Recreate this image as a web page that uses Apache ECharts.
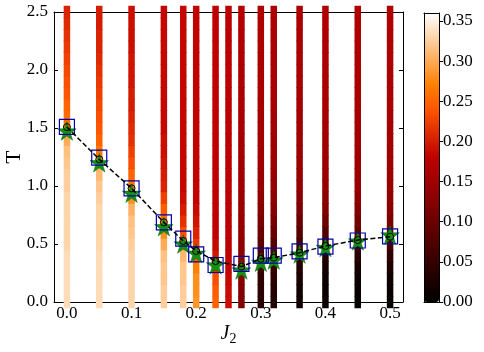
<!DOCTYPE html>
<html><head><meta charset="utf-8">
<script src="https://cdn.jsdelivr.net/npm/echarts@6/dist/echarts.min.js"></script>
<style>html,body{margin:0;padding:0;background:#fff}#c{width:484px;height:352px}</style>
</head><body><div id="c"></div>
<script>
// ---- data ----
const J2 = [0, 0.05, 0.1, 0.15, 0.18, 0.2, 0.23, 0.25, 0.27, 0.3, 0.32, 0.36, 0.4, 0.45, 0.5];
const tGrid = [0,0.1,0.2,0.3,0.4,0.5,0.6,0.7,0.8,0.9,1.0,1.1,1.2,1.3,1.4,1.5,1.6,1.7,1.8,1.9,2.0,2.1,2.2,2.3,2.4,2.5];
const v000 = [0.335,0.335,0.335,0.335,0.335,0.33,0.33,0.33,0.33,0.33,0.325,0.325,0.32,0.315,0.30,0.265,0.255,0.25,0.24,0.235,0.23,0.225,0.22,0.215,0.21,0.205];
const v005 = [0.335,0.335,0.335,0.335,0.335,0.33,0.33,0.33,0.33,0.325,0.32,0.31,0.29,0.265,0.25,0.24,0.235,0.23,0.225,0.22,0.215,0.21,0.205,0.205,0.2,0.2];
const v010 = [0.33,0.33,0.33,0.33,0.33,0.325,0.32,0.315,0.305,0.28,0.26,0.25,0.235,0.225,0.215,0.21,0.205,0.2,0.2,0.195,0.195,0.195,0.19,0.19,0.19,0.19];
const v015 = [0.325,0.325,0.32,0.32,0.315,0.3,0.28,0.26,0.245,0.225,0.205,0.2,0.195,0.19,0.19,0.185,0.185,0.185,0.185,0.185,0.185,0.185,0.185,0.185,0.185,0.185];
const v018 = [0.325,0.325,0.32,0.32,0.31,0.27,0.235,0.215,0.2,0.19,0.185,0.185,0.185,0.185,0.185,0.185,0.185,0.185,0.185,0.185,0.185,0.185,0.185,0.185,0.185,0.185];
const v020 = [0.285,0.28,0.28,0.27,0.245,0.22,0.205,0.195,0.188,0.183,0.183,0.183,0.183,0.183,0.183,0.183,0.183,0.183,0.183,0.183,0.183,0.183,0.183,0.183,0.183,0.183];
const v023 = [0.25,0.245,0.235,0.215,0.195,0.185,0.18,0.18,0.18,0.18,0.18,0.18,0.18,0.18,0.18,0.18,0.18,0.18,0.18,0.18,0.18,0.18,0.18,0.18,0.18,0.18];
const v025 = [0.19,0.188,0.186,0.183,0.18,0.177,0.175,0.175,0.175,0.175,0.175,0.175,0.175,0.175,0.175,0.175,0.175,0.175,0.175,0.175,0.175,0.175,0.175,0.175,0.175,0.175];
const v027 = [0.12,0.124,0.127,0.13,0.132,0.135,0.139,0.142,0.145,0.148,0.15,0.152,0.153,0.155,0.156,0.158,0.159,0.16,0.162,0.163,0.165,0.166,0.167,0.168,0.17,0.17];
const v030 = [0.038,0.042,0.048,0.058,0.07,0.085,0.1,0.115,0.127,0.136,0.142,0.146,0.149,0.151,0.153,0.155,0.156,0.158,0.159,0.16,0.161,0.162,0.163,0.164,0.165,0.166];
const v032 = [0.032,0.036,0.042,0.052,0.066,0.082,0.098,0.113,0.126,0.135,0.141,0.145,0.148,0.15,0.152,0.154,0.155,0.157,0.158,0.159,0.16,0.161,0.162,0.163,0.164,0.165];
const v036 = [0.015,0.018,0.024,0.032,0.045,0.062,0.082,0.1,0.118,0.13,0.138,0.142,0.145,0.147,0.15,0.152,0.153,0.155,0.156,0.157,0.158,0.159,0.16,0.161,0.162,0.163];
const v040 = [0.008,0.01,0.014,0.022,0.035,0.055,0.078,0.1,0.12,0.132,0.14,0.145,0.148,0.151,0.153,0.155,0.157,0.158,0.16,0.161,0.162,0.163,0.164,0.165,0.166,0.166];
const v045 = [0.006,0.008,0.012,0.022,0.04,0.065,0.09,0.11,0.125,0.135,0.142,0.146,0.149,0.152,0.154,0.156,0.157,0.159,0.16,0.161,0.162,0.163,0.164,0.165,0.166,0.166];
const v050 = [0.006,0.008,0.012,0.025,0.045,0.07,0.095,0.115,0.128,0.137,0.143,0.147,0.15,0.152,0.154,0.156,0.157,0.159,0.16,0.161,0.162,0.163,0.164,0.165,0.166,0.166];
const columns = [v000,v005,v010,v015,v018,v020,v023,v025,v027,v030,v032,v036,v040,v045,v050];

const markJ2   = [0, 0.05, 0.1, 0.15, 0.18, 0.2, 0.23, 0.27, 0.3, 0.32, 0.36, 0.4, 0.45, 0.5];
const circleT  = [1.508, 1.23, 0.98, 0.687, 0.526, 0.44, 0.353, 0.305, 0.373, 0.382, 0.425, 0.483, 0.534, 0.563];
const squareT  = [1.51, 1.244, 0.98, 0.687, 0.546, 0.411, 0.319, 0.329, 0.40, 0.40, 0.437, 0.478, 0.53, 0.566];
const starT    = [1.474, 1.20, 0.937, 0.649, 0.50, 0.42, 0.32, 0.276, 0.342, 0.362, 0.414, 0.47, 0.526, 0.578];

const xTicks  = [0, 0.1, 0.2, 0.3, 0.4, 0.5];
const yTicks  = [0, 0.5, 1.0, 1.5, 2.0, 2.5];
const cbTicks = [0, 0.05, 0.1, 0.15, 0.2, 0.25, 0.3, 0.35];
const cbMax = 0.36;

// ---- build ----
const FONT = '"Liberation Serif", "Times New Roman", serif';
const GIST_HEAT = ['#000000','#200000','#400000','#600000','#800000','#9f0000','#bf0000','#df2a00','#ff5500','#ff8000','#ffaa55','#ffd5aa','#ffffff'];
const heatData = [];
J2.forEach((x, i) => { columns[i].forEach((v, j) => heatData.push([x, tGrid[j], v])); });
const zip = (xs, ys) => xs.map((x, i) => [x, ys[i]]);
const STAR = 'path://M100,0L122.45,69.1L195.1,69.1L136.3,111.8L158.8,180.9L100,138.2L41.2,180.9L63.7,111.8L4.9,69.1L77.55,69.1Z';
const axLine = {show: true, onZero: false, lineStyle: {color: '#000', width: 1}};
const lbl = {color: '#000', fontFamily: FONT, fontSize: 17};

const chart = echarts.init(document.getElementById('c'), null, {renderer: 'canvas'});
chart.setOption({
  animation: false,
  grid: [
    {left: 54, top: 12, width: 349, height: 290, outerBoundsMode: 'none', containLabel: false},
    {left: 424, top: 13, width: 15, height: 289, outerBoundsMode: 'none', containLabel: false}
  ],
  xAxis: [
    {gridIndex: 0, type: 'value', min: -0.02, max: 0.52, position: 'bottom', axisLine: axLine,
     axisTick: {inside: true, length: 4, customValues: xTicks, lineStyle: {color: '#000'}},
     axisLabel: Object.assign({customValues: xTicks, formatter: v => v.toFixed(1), margin: 3}, lbl),
     splitLine: {show: false},
     name: '{j|J}{s|2}', nameLocation: 'middle', nameGap: 22, nameMoveOverlap: false,
     nameTextStyle: {rich: {
       j: {fontFamily: FONT, fontStyle: 'italic', fontSize: 20, color: '#000', lineHeight: 20, verticalAlign: 'top'},
       s: {fontFamily: FONT, fontSize: 14, color: '#000', lineHeight: 14, verticalAlign: 'top', padding: [8, 0, 0, 0]}
     }}},
    {gridIndex: 0, type: 'value', min: -0.02, max: 0.52, position: 'top', axisLine: axLine,
     axisTick: {inside: true, length: 4, customValues: xTicks, lineStyle: {color: '#000'}},
     axisLabel: {show: false}, splitLine: {show: false}},
    {gridIndex: 1, type: 'value', min: 0, max: 1, position: 'bottom', axisLine: axLine,
     axisTick: {show: false}, axisLabel: {show: false}, splitLine: {show: false}, z: 10},
    {gridIndex: 1, type: 'value', min: 0, max: 1, position: 'top', axisLine: axLine,
     axisTick: {show: false}, axisLabel: {show: false}, splitLine: {show: false}, z: 10}
  ],
  yAxis: [
    {gridIndex: 0, type: 'value', min: 0, max: 2.5, position: 'left', axisLine: axLine,
     axisTick: {inside: true, length: 4, customValues: yTicks, lineStyle: {color: '#000'}},
     axisLabel: Object.assign({customValues: yTicks, formatter: v => v.toFixed(1), margin: 6}, lbl),
     splitLine: {show: false},
     name: 'T', nameLocation: 'middle', nameGap: 29, nameRotate: 90, nameMoveOverlap: false,
     nameTextStyle: {fontFamily: FONT, fontSize: 21, color: '#000'}},
    {gridIndex: 0, type: 'value', min: 0, max: 2.5, position: 'right', axisLine: axLine,
     axisTick: {inside: true, length: 4, customValues: yTicks, lineStyle: {color: '#000'}},
     axisLabel: {show: false}, splitLine: {show: false}},
    {gridIndex: 1, type: 'value', min: 0, max: cbMax, position: 'right', axisLine: axLine,
     axisTick: {inside: false, length: 4, customValues: cbTicks, lineStyle: {color: '#000'}},
     axisLabel: Object.assign({customValues: cbTicks, formatter: v => v.toFixed(2), margin: 4}, lbl),
     splitLine: {show: false}, z: 10},
    {gridIndex: 1, type: 'value', min: 0, max: cbMax, position: 'left', axisLine: axLine,
     axisTick: {show: false}, axisLabel: {show: false}, splitLine: {show: false}, z: 10}
  ],
  visualMap: {
    type: 'continuous', min: 0, max: cbMax, dimension: 2, seriesIndex: 0,
    inRange: {color: GIST_HEAT}, calculable: false, hoverLink: false,
    itemWidth: 15, itemHeight: 289, left: 424, top: 13, padding: 0, text: null, z: 2
  },
  series: [
    {type: 'scatter', xAxisIndex: 0, yAxisIndex: 0, data: heatData, symbol: 'rect',
     symbolSize: [6.5, 12.5], itemStyle: {opacity: 1}, silent: true, z: 1},
    {type: 'scatter', xAxisIndex: 0, yAxisIndex: 0, data: zip(markJ2, starT), symbol: STAR,
     symbolSize: 18.5, itemStyle: {color: '#159015', opacity: 1, borderColor: '#0d6a0d', borderWidth: 0.5}, z: 3},
    {type: 'scatter', xAxisIndex: 0, yAxisIndex: 0, data: zip(markJ2, squareT), symbol: 'rect',
     symbolSize: 15, itemStyle: {color: 'rgba(0,0,0,0)', opacity: 1, borderColor: '#0000a8', borderWidth: 1.2}, z: 4},
    {type: 'line', xAxisIndex: 0, yAxisIndex: 0, data: zip(markJ2, circleT), symbol: 'circle',
     symbolSize: 7, showAllSymbol: true,
     lineStyle: {color: '#000', width: 1.5, type: [5, 2.5]},
     itemStyle: {color: 'rgba(0,0,0,0)', borderColor: '#000', borderWidth: 1}, z: 5}
  ]
});
</script></body></html>
